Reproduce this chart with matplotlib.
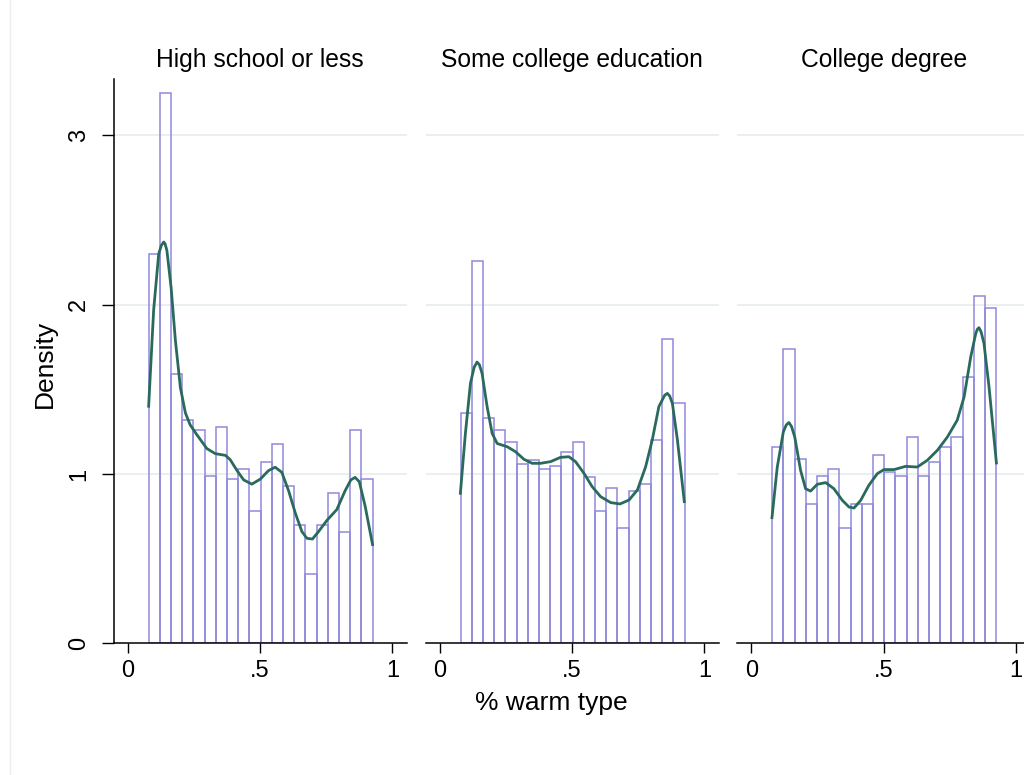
import numpy as np
import matplotlib.pyplot as plt
from matplotlib.lines import Line2D

plt.rcParams["font.family"] = ["Liberation Sans", "DejaVu Sans"]

panels = ["High school or less", "Some college education", "College degree"]

# histogram densities, 20 bins between min and max of % warm type
hs_hist = [2.30, 3.25, 1.59, 1.32, 1.26, 0.99, 1.28, 0.97, 1.03, 0.78,
           1.07, 1.18, 0.93, 0.70, 0.41, 0.70, 0.89, 0.66, 1.26, 0.97]
sc_hist = [1.36, 2.26, 1.33, 1.26, 1.19, 1.06, 1.08, 1.03, 1.05, 1.13,
           1.19, 0.98, 0.78, 0.92, 0.68, 0.90, 0.94, 1.20, 1.80, 1.42]
cd_hist = [1.16, 1.74, 1.09, 0.82, 0.99, 1.03, 0.68, 0.82, 0.82, 1.11,
           1.01, 0.99, 1.22, 0.99, 1.07, 1.16, 1.22, 1.57, 2.05, 1.98]

# kernel density curves
hs_kx = [0.079, 0.098, 0.117, 0.127, 0.136, 0.141, 0.148, 0.164, 0.180, 0.199,
         0.218, 0.236, 0.262, 0.299, 0.331, 0.369, 0.387, 0.413, 0.438, 0.469,
         0.501, 0.532, 0.557, 0.582, 0.608, 0.633, 0.658, 0.677, 0.698, 0.721,
         0.752, 0.790, 0.821, 0.843, 0.859, 0.875, 0.897, 0.925]
hs_ky = [1.40, 1.97, 2.30, 2.35, 2.37, 2.36, 2.32, 2.10, 1.79, 1.51,
         1.36, 1.29, 1.23, 1.15, 1.12, 1.11, 1.085, 1.02, 0.965, 0.94,
         0.97, 1.02, 1.04, 1.01, 0.90, 0.77, 0.66, 0.62, 0.616, 0.66,
         0.725, 0.79, 0.90, 0.965, 0.98, 0.954, 0.81, 0.583]

sc_kx = [0.078, 0.097, 0.116, 0.130, 0.141, 0.150, 0.160, 0.179, 0.198, 0.217,
         0.255, 0.286, 0.318, 0.349, 0.381, 0.419, 0.456, 0.488, 0.513, 0.545,
         0.576, 0.608, 0.646, 0.681, 0.715, 0.747, 0.778, 0.803, 0.828, 0.850,
         0.860, 0.869, 0.879, 0.898, 0.924]
sc_ky = [0.886, 1.24, 1.535, 1.63, 1.661, 1.645, 1.594, 1.398, 1.24, 1.18,
         1.161, 1.132, 1.087, 1.063, 1.063, 1.073, 1.098, 1.102, 1.073, 1.004,
         0.925, 0.866, 0.831, 0.823, 0.846, 0.906, 1.043, 1.201, 1.398, 1.465,
         1.476, 1.46, 1.417, 1.201, 0.837]

cd_kx = [0.078, 0.098, 0.121, 0.132, 0.142, 0.152, 0.164, 0.186, 0.205, 0.224,
         0.249, 0.281, 0.312, 0.344, 0.369, 0.388, 0.413, 0.444, 0.476, 0.501,
         0.539, 0.583, 0.627, 0.665, 0.703, 0.741, 0.778, 0.804, 0.829, 0.848,
         0.854, 0.860, 0.868, 0.879, 0.898, 0.926]
cd_ky = [0.742, 1.041, 1.249, 1.29, 1.304, 1.28, 1.219, 1.022, 0.913, 0.899,
         0.939, 0.949, 0.913, 0.844, 0.805, 0.799, 0.844, 0.933, 1.002, 1.026,
         1.026, 1.045, 1.041, 1.081, 1.140, 1.219, 1.318, 1.456, 1.692, 1.830,
         1.855, 1.864, 1.84, 1.771, 1.515, 1.065]

hists = [hs_hist, sc_hist, cd_hist]
kdes = [(hs_kx, hs_ky), (sc_kx, sc_ky), (cd_kx, cd_ky)]

bin_start = 0.079
bin_width = 0.0423

bar_color = "#9189dc"
kde_color = "#2a6a5c"
grid_color = "#e6eef0"

fig = plt.figure(figsize=(10.24, 7.75), dpi=100)

lefts = [113.7, 425.7, 737.3]
for i, name in enumerate(panels):
    ax = fig.add_axes([lefts[i] / 1024, 1 - 643.3 / 775, 293 / 1024, (643.3 - 79.3) / 775])
    heights = hists[i]
    edges = bin_start + bin_width * np.arange(len(heights))
    ax.bar(edges, heights, width=bin_width, align="edge",
           facecolor="none", edgecolor=bar_color, linewidth=1.1, zorder=2)
    ax.plot(kdes[i][0], kdes[i][1], color=kde_color, linewidth=2.0,
            solid_joinstyle="round", zorder=3)

    ax.set_xlim(-0.053, 1.054)
    ax.set_ylim(0, 3.331)
    for y in [1, 2, 3]:
        ax.axhline(y, color=grid_color, linewidth=1.2, zorder=1)

    ax.set_xticks([0, 0.5, 1])
    ax.set_xticklabels(["0", ".5", "1"])
    ax.tick_params(axis="x", length=7, width=1, labelsize=17, pad=5)
    for s in ["top", "right"]:
        ax.spines[s].set_visible(False)
    ax.spines["bottom"].set_linewidth(1.1)

    if i == 0:
        ax.set_yticks([0, 1, 2, 3])
        ax.set_yticklabels(["0", "1", "2", "3"], rotation=90, va="center")
        ax.tick_params(axis="y", length=9, width=1, labelsize=17, pad=8)
        ax.spines["left"].set_linewidth(1.1)
    else:
        ax.spines["left"].set_visible(False)
        ax.set_yticks([])

    fig.text((lefts[i] + 146.5) / 1024, 1 - 60 / 775, name,
             ha="center", va="center", fontsize=17.7)

fig.text(45 / 1024, 1 - 364 / 775, "Density", rotation=90,
         ha="center", va="center", fontsize=19)
fig.text(551.5 / 1024, 1 - 703 / 775, "% warm type",
         ha="center", va="center", fontsize=19)

fig.add_artist(Line2D([10 / 1024, 10 / 1024], [0, 1], color="#e9eef2", linewidth=1))

fig.savefig("out.png", dpi=100)
